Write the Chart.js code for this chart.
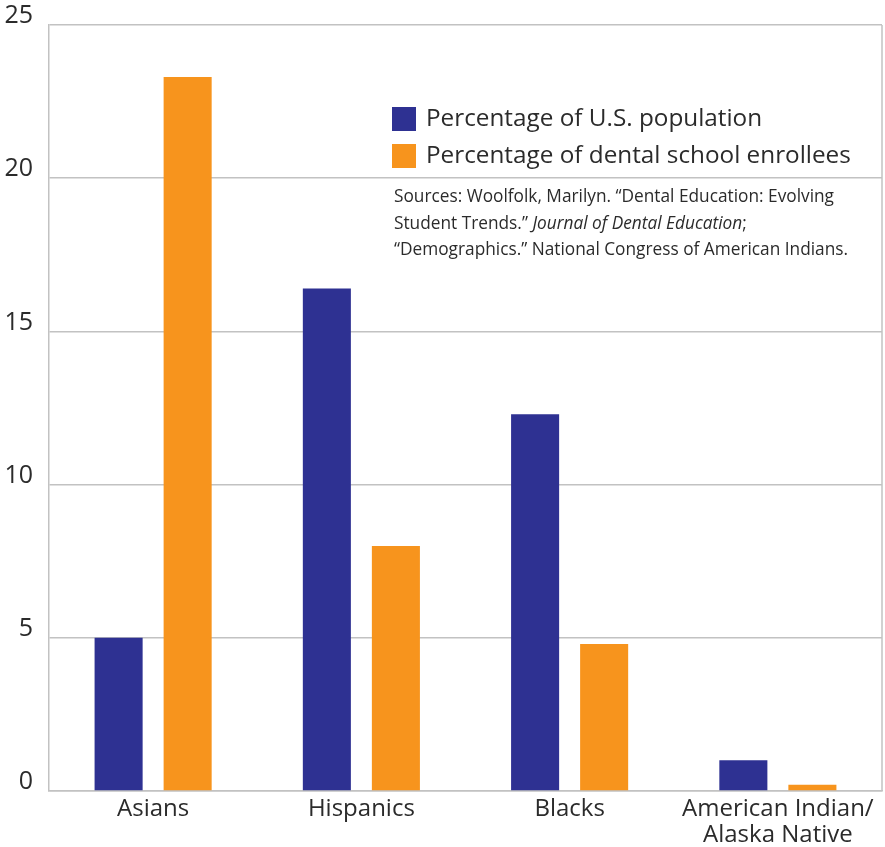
<!DOCTYPE html>
<html>
<head>
<meta charset="utf-8">
<script src="https://cdn.jsdelivr.net/npm/chart.js@4.4.0/dist/chart.umd.min.js"></script>
<style>
  html, body { margin: 0; padding: 0; background: #fff; }
  #wrap { width: 885px; height: 847px; position: relative; }
</style>
</head>
<body>
<div id="wrap"><canvas id="grafica"></canvas></div>
<script>
// datos
const categorias = ['Asians', 'Hispanics', 'Blacks', ['American Indian/', 'Alaska Native']];
const poblacion = [5.0, 16.4, 12.3, 1.0];
const matriculados = [23.3, 8.0, 4.8, 0.2];
const nombresSeries = ['Percentage of U.S. population', 'Percentage of dental school enrollees'];
const fuentes = [
  [['Sources: Woolfolk, Marilyn. \u201cDental Education: Evolving', false]],
  [['Student Trends.\u201d ', false], ['Journal of Dental Education', true], [';', false]],
  [['\u201cDemographics.\u201d National Congress of American Indians.', false]]
];

const AZUL = '#2E3192';
const NARANJA = '#F7941D';
const GRIS = '#c2c2c2';
const TEXTO = '#2b2b2b';

// leyenda y fuentes dibujadas dentro del area
const leyendaPlugin = {
  id: 'leyendaDentro',
  afterDraw(chart) {
    const ctx = chart.ctx;
    const area = chart.chartArea;
    ctx.save();
    // borde derecho
    ctx.strokeStyle = GRIS;
    ctx.lineWidth = 1.5;
    ctx.beginPath();
    ctx.moveTo(area.right, area.top);
    ctx.lineTo(area.right, area.bottom);
    ctx.stroke();

    // leyenda
    ctx.textBaseline = 'middle';
    ctx.fillStyle = TEXTO;
    ctx.font = '24.3px "Open Sans"';
    chart.data.datasets.forEach((ds, i) => {
      const y = 107 + i * 37;
      ctx.fillStyle = ds.backgroundColor;
      ctx.fillRect(392, y, 24, 24);
      ctx.fillStyle = TEXTO;
      ctx.fillText(ds.label, 426, y + 12);
    });

    // fuentes (texto condensado)
    const normal = '19px "Open Sans"';
    const cursiva = 'italic 19px "Open Sans"';
    ctx.font = normal;
    const ancho1 = ctx.measureText(fuentes[0][0][0]).width;
    const escala = 440 / ancho1;
    fuentes.forEach((linea, i) => {
      const y = 197 + i * 26.5;
      ctx.save();
      ctx.translate(394, y);
      ctx.scale(escala, 1);
      let x = 0;
      linea.forEach(([txt, it]) => {
        ctx.font = it ? cursiva : normal;
        ctx.fillText(txt, x, 0);
        x += ctx.measureText(txt).width;
      });
      ctx.restore();
    });
    ctx.restore();
  }
};

new Chart(document.getElementById('grafica'), {
  type: 'bar',
  data: {
    labels: categorias,
    datasets: [
      { label: nombresSeries[0], data: poblacion, backgroundColor: AZUL },
      { label: nombresSeries[1], data: matriculados, backgroundColor: NARANJA }
    ]
  },
  options: {
    responsive: true,
    maintainAspectRatio: false,
    animation: false,
    layout: { padding: { top: 25, right: 3, left: 0, bottom: 0 } },
    plugins: {
      legend: { display: false },
      tooltip: { enabled: false }
    },
    datasets: {
      bar: { categoryPercentage: 0.663, barPercentage: 0.696 }
    },
    scales: {
      x: {
        grid: { display: false },
        border: { display: true, color: GRIS, width: 1.5 },
        ticks: {
          color: TEXTO,
          font: { family: '"Open Sans"', size: 24, lineHeight: 1.05 },
          padding: -2,
          maxRotation: 0,
          autoSkip: false
        },
        afterFit(scale) { scale.height = 56; scale.paddingLeft = 0; scale.paddingRight = 0; }
      },
      y: {
        min: 0,
        max: 25,
        ticks: {
          stepSize: 5,
          color: TEXTO,
          font: { family: '"Open Sans"', size: 25 },
          padding: 16,
          labelOffset: -9
        },
        grid: { color: GRIS, lineWidth: 1.5, drawTicks: false },
        border: { display: true, color: GRIS, width: 1.5 },
        afterFit(scale) { scale.width = 49; scale.paddingTop = 0; scale.paddingBottom = 0; }
      }
    }
  },
  plugins: [leyendaPlugin]
});
</script>
</body>
</html>
